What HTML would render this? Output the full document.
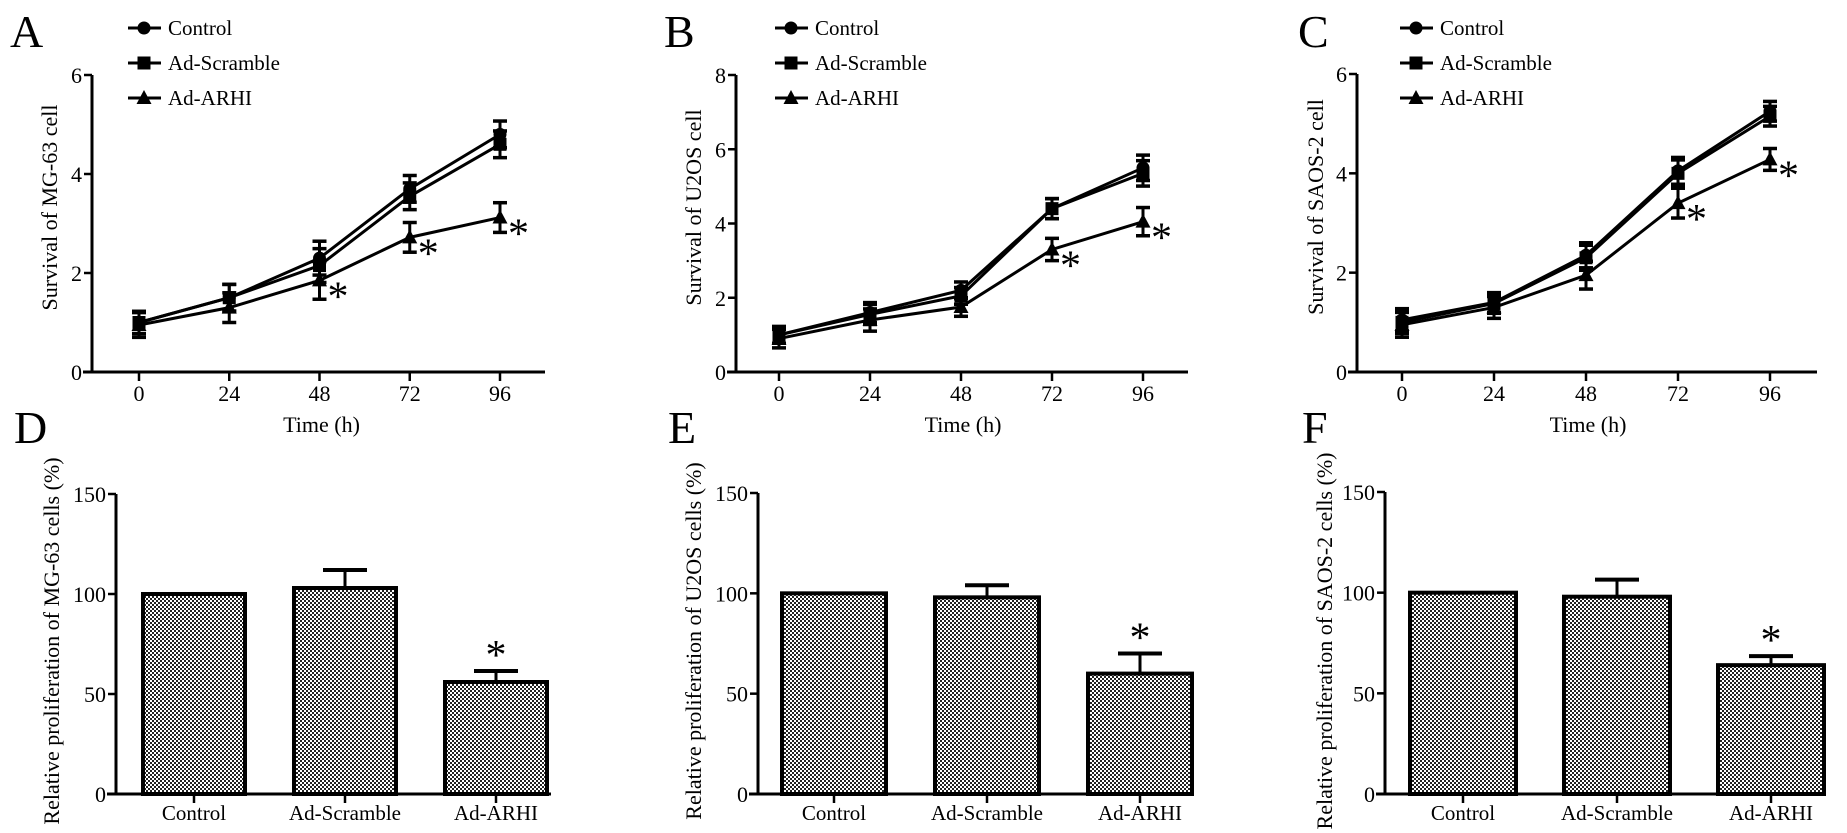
<!DOCTYPE html>
<html><head><meta charset="utf-8">
<style>
html,body{margin:0;padding:0;background:#fff;}
svg{display:block;font-family:"Liberation Serif","Times New Roman",serif;}
</style></head>
<body>
<svg id="fig" width="1847" height="833" viewBox="0 0 1847 833" xmlns="http://www.w3.org/2000/svg">
<defs>
<pattern id="chk" width="4" height="4" patternUnits="userSpaceOnUse">
<rect width="4" height="4" fill="#fff"/>
<rect width="2" height="2" fill="#222"/>
<rect x="2" y="2" width="2" height="2" fill="#222"/>
</pattern>
</defs>
</svg>
<script>
// ---- data ----
const timeCats = [0, 24, 48, 72, 96];
const seriesNames = ["Control", "Ad-Scramble", "Ad-ARHI"];
const aControl = [1.0, 1.5, 2.3, 3.7, 4.8];
const aScramble = [1.0, 1.5, 2.15, 3.55, 4.6];
const aArhi = [0.95, 1.3, 1.85, 2.72, 3.12];
const aErr = [0.25, 0.3, 0.38, 0.3, 0.3];
const bControl = [1.0, 1.6, 2.2, 4.4, 5.5];
const bScramble = [1.0, 1.55, 2.05, 4.4, 5.35];
const bArhi = [0.9, 1.4, 1.75, 3.3, 4.05];
const bErr = [0.25, 0.3, 0.25, 0.3, 0.38];
const cControl = [1.05, 1.4, 2.35, 4.05, 5.25];
const cScramble = [1.0, 1.38, 2.3, 4.0, 5.15];
const cArhi = [0.95, 1.3, 1.95, 3.4, 4.28];
const cErr = [0.25, 0.22, 0.28, 0.3, 0.22];
const aTicks = [0, 2, 4, 6];
const bTicks = [0, 2, 4, 6, 8];
const cTicks = [0, 2, 4, 6];
const barCats = ["Control", "Ad-Scramble", "Ad-ARHI"];
const dValues = [100, 103, 56];
const dErr = [0, 9, 5.5];
const eValues = [100, 98, 60];
const eErr = [0, 6, 10];
const fValues = [100, 98, 64];
const fErr = [0, 8.5, 4.5];
const barTicks = [0, 50, 100, 150];

const svg = document.getElementById('fig');
const NS = 'http://www.w3.org/2000/svg';
function mk(tag, attrs, parent) {
  const e = document.createElementNS(NS, tag);
  for (const k in attrs) e.setAttribute(k, attrs[k]);
  (parent || svg).appendChild(e);
  return e;
}
function txt(s, attrs, parent) { const t = mk('text', attrs, parent); t.textContent = s; return t; }

function marker(g, kind, x, y) {
  let m;
  if (kind === 0) m = mk('circle', {cx: x, cy: y, r: 6.5, fill: '#000'}, g);
  else if (kind === 1) m = mk('rect', {x: x - 6.5, y: y - 6.5, width: 13, height: 13, fill: '#000'}, g);
  else m = mk('polygon', {points: `${x},${y - 8} ${x - 7.5},${y + 6} ${x + 7.5},${y + 6}`, fill: '#000'}, g);
  return m;
}

function lineChart(cfg) {
  const g = mk('g', {});
  
  
  const xs = v => cfg.x0 + (v - timeCats[0]) / (timeCats[timeCats.length - 1] - timeCats[0]) * (cfg.x1 - cfg.x0);
  const ys = v => cfg.yb - v / cfg.ymax * (cfg.yb - cfg.yt);
  const ya = mk('line', {x1: cfg.ax, y1: cfg.yt, x2: cfg.ax, y2: cfg.yb, stroke: '#000', 'stroke-width': 3}, g);
   
  const xa = mk('line', {x1: cfg.ax - 9, y1: cfg.yb, x2: cfg.xend, y2: cfg.yb, stroke: '#000', 'stroke-width': 3}, g);
   
  cfg.ticks.forEach(t => {
    mk('line', {x1: cfg.ax - 8, y1: ys(t), x2: cfg.ax, y2: ys(t), stroke: '#000', 'stroke-width': 2.5}, g);
    const l = txt(String(t), {x: cfg.ax - 10, y: ys(t) + 8, 'text-anchor': 'end', 'font-size': 22}, g);
     
  });
  timeCats.forEach(t => {
    mk('line', {x1: xs(t), y1: cfg.yb, x2: xs(t), y2: cfg.yb + 9, stroke: '#000', 'stroke-width': 2.5}, g);
    const l = txt(String(t), {x: xs(t), y: cfg.yb + 29, 'text-anchor': 'middle', 'font-size': 22}, g);
     
  });
  const xt = txt('Time (h)', {x: (cfg.x0 + cfg.x1) / 2 + 2, y: 432, 'text-anchor': 'middle', 'font-size': 22}, g);
   
  const yt = txt(cfg.ytitle, {x: 0, y: 0, 'text-anchor': 'middle', 'font-size': 22, transform: `translate(${cfg.ytx},${(cfg.yt + cfg.yb) / 2 - 16}) rotate(-90)`}, g);
   
  const pl = txt(cfg.letter, {x: cfg.lx, y: 47, 'font-size': 46}, g);
   
  cfg.series.forEach((vals, si) => {
    const sg = mk('g', {}, g);
    
    
    const pts = vals.map((v, i) => `${xs(timeCats[i])},${ys(v)}`).join(' ');
    mk('polyline', {points: pts, fill: 'none', stroke: '#000', 'stroke-width': 3}, sg);
    vals.forEach((v, i) => {
      const x = xs(timeCats[i]);
      const e = si === 2 ? cfg.err[i] : cfg.err[i] * 0.9;
      mk('line', {x1: x, y1: ys(v - e), x2: x, y2: ys(v + e), stroke: '#000', 'stroke-width': 3}, sg);
      mk('line', {x1: x - 7, y1: ys(v - e), x2: x + 7, y2: ys(v - e), stroke: '#000', 'stroke-width': 3.5}, sg);
      mk('line', {x1: x - 7, y1: ys(v + e), x2: x + 7, y2: ys(v + e), stroke: '#000', 'stroke-width': 3.5}, sg);
      const m = marker(sg, si, x, ys(v));
      
      
    });
  });
  cfg.stars.forEach(i => {
    const s = txt('*', {x: xs(timeCats[i]) + 8, y: ys(cfg.series[2][i]) + 30, 'font-size': 42}, g);
     
  });
  const lg = mk('g', {}, g);
  
  
  seriesNames.forEach((n, i) => {
    const y = 28 + i * 35;
    const eg = mk('g', {}, lg);
    
    
    mk('line', {x1: cfg.legx, y1: y, x2: cfg.legx + 33, y2: y, stroke: '#000', 'stroke-width': 3}, eg);
    marker(eg, i, cfg.legx + 16, y);
    txt(n, {x: cfg.legx + 40, y: y + 7, 'font-size': 21}, eg);
  });
}

function barChart(cfg) {
  const g = mk('g', {});
  
  
  const ys = v => cfg.yb - v / 150 * (cfg.yb - cfg.yt);
  const bw = cfg.bw, step = cfg.step;
  const bx = i => cfg.b0 + i * step;
  const ya = mk('line', {x1: cfg.ax, y1: cfg.yt, x2: cfg.ax, y2: cfg.yb, stroke: '#000', 'stroke-width': 3}, g);
   
  barTicks.forEach(t => {
    mk('line', {x1: cfg.ax - 8, y1: ys(t), x2: cfg.ax, y2: ys(t), stroke: '#000', 'stroke-width': 2.5}, g);
    const l = txt(String(t), {x: cfg.ax - 10, y: ys(t) + 8, 'text-anchor': 'end', 'font-size': 22}, g);
     
  });
  cfg.values.forEach((v, i) => {
    const x = bx(i);
    const e = cfg.err[i];
    if (e > 0) {
      mk('line', {x1: x + bw / 2, y1: ys(v), x2: x + bw / 2, y2: ys(v + e), stroke: '#000', 'stroke-width': 3}, g);
      mk('line', {x1: x + bw / 2 - 22, y1: ys(v + e), x2: x + bw / 2 + 22, y2: ys(v + e), stroke: '#000', 'stroke-width': 4}, g);
    }
    const r = mk('rect', {x: x, y: ys(v), width: bw, height: ys(0) - ys(v), fill: 'url(#chk)', stroke: '#000', 'stroke-width': 4}, g);
    
    
    mk('line', {x1: x + bw / 2, y1: cfg.yb, x2: x + bw / 2, y2: cfg.yb + 9, stroke: '#000', 'stroke-width': 2.5}, g);
    const l = txt(barCats[i], {x: x + bw / 2, y: cfg.yb + 26, 'text-anchor': 'middle', 'font-size': 21}, g);
     
  });
  const s = txt('*', {x: bx(2) + bw / 2, y: ys(cfg.values[2] + cfg.err[2]) - 2, 'text-anchor': 'middle', 'font-size': 42}, g);
   
  const xa = mk('line', {x1: cfg.ax - 9, y1: cfg.yb, x2: cfg.xend, y2: cfg.yb, stroke: '#000', 'stroke-width': 3}, g);
   
  const yt = txt(cfg.ytitle, {x: 0, y: 0, 'text-anchor': 'middle', 'font-size': 22, transform: `translate(${cfg.ytx},641) rotate(-90)`}, g);
   
  const pl = txt(cfg.letter, {x: cfg.lx, y: 443, 'font-size': 46}, g);
   
}

lineChart({name: 'chart-a-mg63', letter: 'A', lx: 10, ax: 92, x0: 139, x1: 500, xend: 545, yt: 75, yb: 372, ymax: 6, ticks: aTicks,
  series: [aControl, aScramble, aArhi], err: aErr, stars: [2, 3, 4], ytitle: 'Survival of MG-63 cell', ytx: 57, legx: 128});
lineChart({name: 'chart-b-u2os', letter: 'B', lx: 664, ax: 736, x0: 779, x1: 1143, xend: 1188, yt: 75, yb: 372, ymax: 8, ticks: bTicks,
  series: [bControl, bScramble, bArhi], err: bErr, stars: [3, 4], ytitle: 'Survival of U2OS cell', ytx: 701, legx: 775});
lineChart({name: 'chart-c-saos2', letter: 'C', lx: 1298, ax: 1357, x0: 1402, x1: 1770, xend: 1817, yt: 74, yb: 372, ymax: 6, ticks: cTicks,
  series: [cControl, cScramble, cArhi], err: cErr, stars: [3, 4], ytitle: 'Survival of SAOS-2 cell', ytx: 1323, legx: 1400});

barChart({name: 'chart-d-mg63', letter: 'D', lx: 14, ax: 116, yt: 494, yb: 794, xend: 551, b0: 143, bw: 102, step: 151,
  values: dValues, err: dErr, ytitle: 'Relative proliferation of MG-63 cells (%)', ytx: 59});
barChart({name: 'chart-e-u2os', letter: 'E', lx: 668, ax: 758, yt: 493, yb: 794, xend: 1190, b0: 782, bw: 104, step: 153,
  values: eValues, err: eErr, ytitle: 'Relative proliferation of U2OS cells (%)', ytx: 701});
barChart({name: 'chart-f-saos2', letter: 'F', lx: 1302, ax: 1385, yt: 492, yb: 794, xend: 1823, b0: 1410, bw: 106, step: 154,
  values: fValues, err: fErr, ytitle: 'Relative proliferation of SAOS-2 cells (%)', ytx: 1332});
</script>
</body></html>
